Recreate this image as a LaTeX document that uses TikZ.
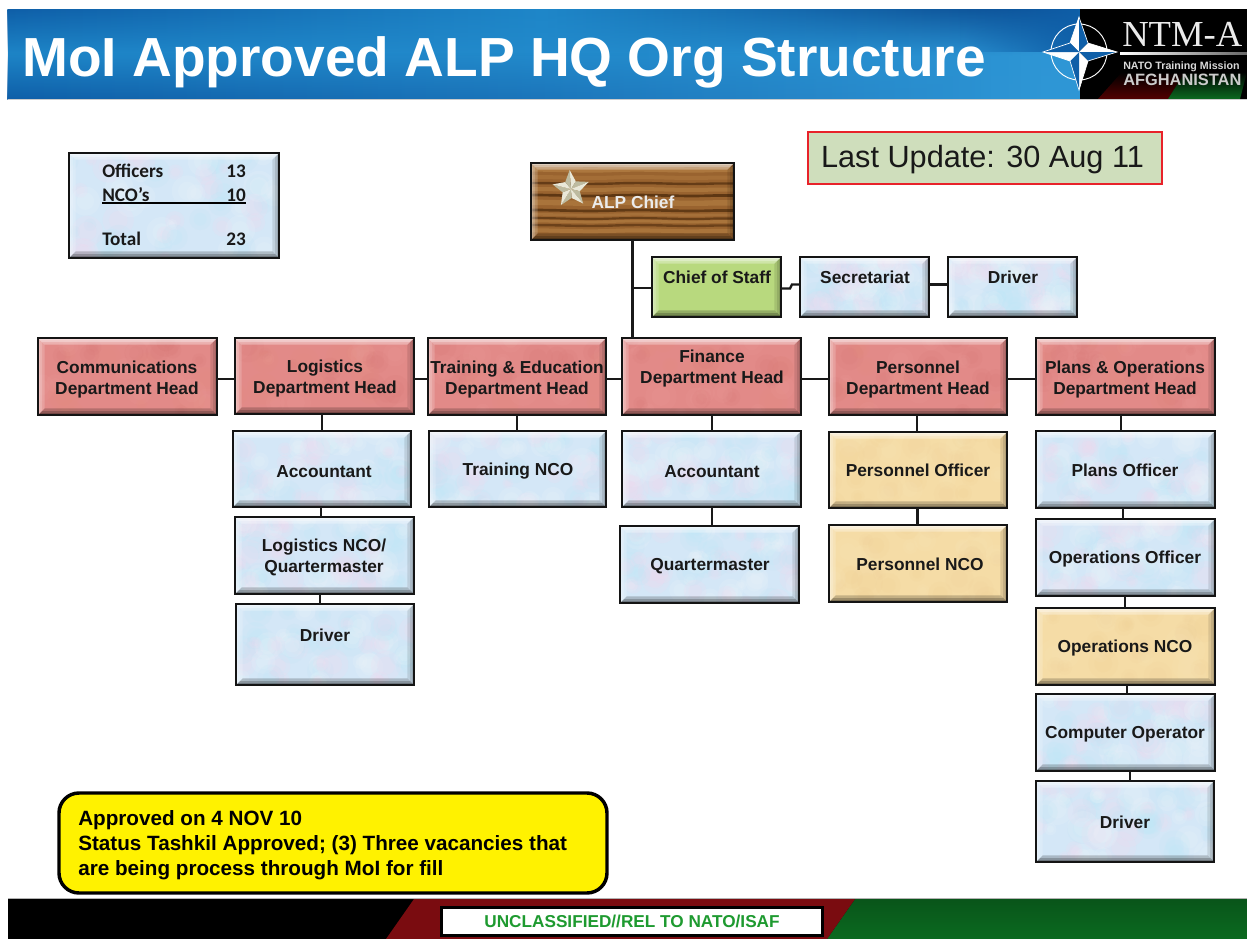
\documentclass[tikz,border=0pt]{standalone}
\usepackage{fontspec}
\setmainfont{Liberation Sans}
\newfontfamily\carl{Carlito}
\newfontfamily\serifl{Liberation Serif}
\usetikzlibrary{fadings,calc}
\definecolor{mbase}{HTML}{D4E7F7}
\definecolor{mA0}{HTML}{F4D8EE}
\definecolor{mA1}{HTML}{BCE6F6}
\definecolor{mA2}{HTML}{EEF6FC}
\definecolor{rbase}{HTML}{E28A88}
\definecolor{rA0}{HTML}{D97A78}
\definecolor{rA1}{HTML}{EA9C98}
\definecolor{rA2}{HTML}{E58E80}
\definecolor{tbase}{HTML}{F5DCA6}
\definecolor{tA0}{HTML}{F0D096}
\definecolor{tA1}{HTML}{F9E4B6}
\definecolor{tA2}{HTML}{EFD29C}
\definecolor{gbase}{HTML}{B8D97E}
\definecolor{wbase}{HTML}{99632F}
\definecolor{wdark}{HTML}{54300F}
\definecolor{wlight}{HTML}{B98548}
\definecolor{lastfill}{HTML}{CFDEBC}
\definecolor{lastred}{HTML}{E8222A}
\definecolor{deep}{HTML}{0B4A90}
\definecolor{mid}{HTML}{1E86C8}
\definecolor{lite}{HTML}{2F97D6}
\definecolor{low}{HTML}{0F5FA8}
\definecolor{ftgreen}{HTML}{0B6A20}
\definecolor{ftred}{HTML}{7A0C10}
\definecolor{txtgreen}{HTML}{1E9A30}
\newcommand\bandset[1]{%
  \fill[white,opacity=.32] (NW)--(NE)--([shift={(-#1pt,-#1pt)}]NE)--([shift={(#1pt,-#1pt)}]NW)--cycle;
  \fill[white,opacity=.18] (NW)--(SW)--([shift={(#1pt,#1pt)}]SW)--([shift={(#1pt,-#1pt)}]NW)--cycle;
  \fill[black,opacity=.10] (NE)--(SE)--([shift={(-#1pt,#1pt)}]SE)--([shift={(-#1pt,-#1pt)}]NE)--cycle;
  \fill[black,opacity=.20] (SW)--(SE)--([shift={(-#1pt,#1pt)}]SE)--([shift={(#1pt,#1pt)}]SW)--cycle;}
\newcommand\bevelpic{%
  \coordinate (NW) at (path picture bounding box.north west);
  \coordinate (NE) at (path picture bounding box.north east);
  \coordinate (SW) at (path picture bounding box.south west);
  \coordinate (SE) at (path picture bounding box.south east);
  \bandset{5}\bandset{3}\bandset{1.5}}
\newcommand\blobs[2]{%
  \foreach \i in {1,...,#2}{%
    \pgfmathsetmacro\px{(rnd-.5)*\bw}\pgfmathsetmacro\py{(rnd-.5)*\bh}%
    \pgfmathsetmacro\pr{4+rnd*8}\pgfmathtruncatemacro\pc{mod(\i,3)}%
    \fill[#1\pc,opacity=.16] ([shift={(\px pt,\py pt)}]path picture bounding box.center) circle[radius=\pr pt];
    \fill[#1\pc,opacity=.16] ([shift={(\px pt,\py pt)}]path picture bounding box.center) circle[radius=.6*\pr pt];
  }}
\newcommand\woodpic{%
  \foreach \yy/\cc/\lw/\op in {24/wlight/4/.6,18/wlight/3/.35,13.5/wdark/1.8/.75,9/wlight/3/.5,4.5/wdark/2/.85,-1/wlight/4/.5,-6.75/wdark/2/.8,-10/wlight/2/.4,-12.75/wdark/1.6/.7,-15/wlight/2/.5,-18/wdark/1.8/.65,-22/wlight/3/.5}{%
    \draw[\cc,line width=\lw pt,opacity=\op] ([shift={(-90pt,\yy pt)}]path picture bounding box.center) .. controls +(30pt,1.2pt) and +(-30pt,-1.2pt) .. ++(76pt,0pt) .. controls +(30pt,1.2pt) and +(-30pt,-1.2pt) .. ++(76pt,0pt) -- ++(30pt,0pt);
  }}
\tikzset{
  boxbase/.style={draw=black!92,line width=1.8pt,inner sep=0pt,outer sep=0pt,rectangle},
  marblebox/.style={boxbase,fill=mbase,path picture={\blobs{mA}{60}\bevelpic}},
  redbox/.style={boxbase,fill=rbase,path picture={\blobs{rA}{30}\bevelpic}},
  tanbox/.style={boxbase,fill=tbase,path picture={\blobs{tA}{30}\bevelpic}},
  greenbox/.style={boxbase,fill=gbase,path picture={\bevelpic}},
  woodbox/.style={boxbase,fill=wbase,path picture={\woodpic\bevelpic}},
  lbl/.style={inner sep=0pt,align=center,text=black!90,yshift=-1.1pt,font=\fontsize{13}{15.8}\selectfont\bfseries},
  conn/.style={draw=black!90,line width=1.8pt},
  legtext/.style={inner sep=0pt,font=\fontsize{14.4}{16}\carl\bfseries,text=black!90},
}
\newcommand\bx[8]{% name x1 y1 x2 y2 style tx|ty text
  \pgfmathsetmacro\bw{(#4-#2)*.75}\pgfmathsetmacro\bh{(#5-#3)*.75}%
  \node[#6,minimum width=\bw pt,minimum height=\bh pt] (#1) at ({(#2+#4)/2},{(#3+#5)/2}) {};
  \node[lbl] (#1-t) at (#7) {#8};}
\begin{document}
\begin{tikzpicture}[x=.75pt,y=-.75pt]
\useasboundingbox (0,0) rectangle (1247,939);
\pgfmathsetseed{4711}
% header
\shade[left color=mid,right color=lite,middle color=mid!70!lite] (8,9) rectangle (1247,99);
\shade[left color=low,right color=deep,middle color=mid,path fading=south] (8,9) rectangle (1080,55);
\shade[left color=low,right color=lite,middle color=low!60!lite,path fading=north] (8,52) rectangle (1080,99);
\fill[low,path fading=west] (960,9) rectangle (1081,52);
\fill[lite,path fading=west] (960,52) rectangle (1081,99);
\fill[black] (1080,9) rectangle (1247,99);
\shade[bottom color=ftred!130,top color=black] (1098,99) -- (1122,72) -- (1185,72) -- (1168,99) -- cycle;
\shade[bottom color=ftgreen,top color=black] (1168,99) -- (1185,72) -- (1247,72) -- (1240,99) -- cycle;
\draw[white!80!black,line width=.5pt] (8,99.6) -- (1247,99.6);
\node[font=\fontsize{41.3}{48}\selectfont\bfseries,text=white,inner sep=0pt,anchor=base west] (title) at (22,76) {MoI Approved ALP HQ Org Structure};
% compass
\draw[white,line width=.7pt] (1079,52) circle[radius=28];
\fill[white] (1079,17) -- (1070,43) -- (1079,52) -- cycle;
\fill[low] (1079,17) -- (1088,43) -- (1079,52) -- cycle;
\fill[white] (1117,52) -- (1088,43) -- (1079,52) -- cycle;
\fill[low] (1117,52) -- (1088,61) -- (1079,52) -- cycle;
\fill[white] (1079,90) -- (1088,61) -- (1079,52) -- cycle;
\fill[low] (1079,90) -- (1070,61) -- (1079,52) -- cycle;
\fill[white] (1043,52) -- (1070,61) -- (1079,52) -- cycle;
\fill[low] (1043,52) -- (1070,43) -- (1079,52) -- cycle;
\draw[white,line width=.5pt] (1079,17) -- (1088,43) -- (1117,52) -- (1088,61) -- (1079,90) -- (1070,61) -- (1043,52) -- (1070,43) -- cycle;
\node[font=\fontsize{27.5}{30}\serifl,text=white!92!black,inner sep=0pt,anchor=base west] (ntm) at (1122,46) {NTM-A};
\shade[left color=white,right color=black!60] (1120,52) rectangle (1247,54.5);
\node[font=\fontsize{8}{10}\selectfont\bfseries,text=white!85!black,inner sep=0pt,anchor=base west] (ntmb) at (1123,69) {NATO Training Mission};
\node[font=\fontsize{12.3}{14}\selectfont\bfseries,text=white!80!black,inner sep=0pt,anchor=base west] (ntmc) at (1123,85) {AFGHANISTAN};
% footer
\fill[black] (8,899) rectangle (1247,939);
\shade[top color=ftgreen!80!black,bottom color=ftgreen] (855,899) -- (1247,899) -- (1247,939) -- (827,939) -- cycle;
\fill[ftred] (414,899) -- (855,899) -- (827,939) -- (386,939) -- cycle;
\draw[black!30,line width=.6pt] (8,898.5) -- (1247,898.5);
\node[draw=black,line width=2.2pt,fill=white,minimum width=286pt,minimum height=21.5pt,inner sep=0pt,font=\fontsize{12.9}{14}\selectfont\bfseries,text=txtgreen] (class) at (632,921.5) {UNCLASSIFIED//REL TO NATO/ISAF};
% legend
\pgfmathsetmacro\bw{210*.75}\pgfmathsetmacro\bh{105*.75}
\node[marblebox,minimum width=\bw pt,minimum height=\bh pt] (legend) at (174,205.5) {};
\node[legtext,anchor=base west] (l1) at (102,177) {Officers};
\node[legtext,anchor=base east] (l1n) at (246,177) {13};
\node[legtext,anchor=base west] (l2) at (102,201) {NCO’s};
\node[legtext,anchor=base east] (l2n) at (246,201) {10};
\node[legtext,anchor=base west] (l3) at (102,245) {Total};
\node[legtext,anchor=base east] (l3n) at (246,245) {23};
\draw[black,line width=1.2pt] (l2.south west |- 0,203) -- (l2n.south east |- 0,203);
% last update
\node[draw=lastred,line width=1.5pt,fill=lastfill,minimum width=265.5pt,minimum height=39pt,inner sep=0pt,outer sep=0pt] (last) at (985,158) {};
\node[inner sep=0pt,font=\fontsize{23}{26}\selectfont,text=black!90] (last-t) at (982.5,160) {Last Update: 30 Aug 11};
% note
\node[draw=black,line width=2.6pt,fill=yellow,rounded corners=15pt,minimum width=411pt,minimum height=75pt,inner sep=0pt,outer sep=0pt] (note) at (333,843) {};
\node[inner sep=0pt,align=left,anchor=west,font=\fontsize{15.5}{18.75}\selectfont\bfseries,text=black] (notet) at (78,845.5) {Approved on 4 NOV 10\\Status Tashkil Approved; (3) Three vacancies that\\are being process through MoI for fill};
% boxes
\bx{chief}{531}{163}{734}{240}{woodbox}{633,201}{\textcolor{white!92!black}{ALP Chief}}
\bx{cos}{652}{257}{781}{317}{greenbox}{717,276}{Chief of Staff}
\bx{sec}{800}{257}{929}{317}{marblebox}{865,276}{Secretariat}
\bx{drv}{948}{257}{1077}{317}{marblebox}{1013,276}{Driver}
\bx{comm}{38}{338}{217}{415}{redbox}{127,378}{Communications\\Department Head}
\bx{log}{235}{338}{414}{414}{redbox}{325,377}{Logistics\\Department Head}
\bx{tre}{428}{338}{606}{415}{redbox}{517,378}{Training \& Education\\Department Head}
\bx{fin}{622}{338}{801}{415}{redbox}{712,367}{Finance\\Department Head}
\bx{per}{829}{338}{1007}{415}{redbox}{918,378}{Personnel\\Department Head}
\bx{pln}{1036}{338}{1215}{415}{redbox}{1125,378}{Plans \& Operations\\Department Head}
\bx{acc}{233}{431}{411}{507}{marblebox}{324,470}{Accountant}
\bx{lnco}{235}{517}{414}{594}{marblebox}{324,556}{Logistics NCO/\\Quartermaster}
\bx{ldr}{236}{604}{414}{685}{marblebox}{325,634}{Driver}
\bx{tnco}{429}{431}{606}{507}{marblebox}{518,470}{Training NCO}
\bx{facc}{622}{431}{801}{507}{marblebox}{712,470}{Accountant}
\bx{qm}{620}{526}{799}{603}{marblebox}{710,565}{Quartermaster}
\bx{poff}{829}{432}{1007}{508}{tanbox}{918,469}{Personnel Officer}
\bx{pnco}{829}{525}{1007}{602}{tanbox}{920,563}{Personnel NCO}
\bx{plo}{1036}{431}{1215}{508}{marblebox}{1125,469}{Plans Officer}
\bx{opo}{1036}{519}{1215}{596}{marblebox}{1125,558}{Operations Officer}
\bx{opn}{1036}{608}{1215}{685}{tanbox}{1125,647}{Operations NCO}
\bx{cop}{1036}{694}{1215}{771}{marblebox}{1125,733}{Computer Operator}
\bx{odr}{1036}{781}{1214}{862}{marblebox}{1125,821}{Driver}
% star
\foreach \k in {0,...,4}{%
  \pgfmathsetmacro\aa{-94+72*\k}\pgfmathsetmacro\bb{-94+36+72*\k}\pgfmathsetmacro\cc{-94+72+72*\k}
  \fill[white!92!yellow!90!black] (571,189) -- ($(571,189)+(\aa:19)$) -- ($(571,189)+(\bb:9)$) -- cycle;
  \fill[black!35!white!85!yellow] (571,189) -- ($(571,189)+(\bb:9)$) -- ($(571,189)+(\cc:19)$) -- cycle;
}
% connectors
\draw[conn] (chief.south) -- (chief.south |- fin.north);
\draw[conn] (cos.west |- 0,288) -- (chief.south |- 0,288);
\draw[conn] (cos.east |- 0,288.5) -- (790,288.5) -- (792,284.5) -- (sec.west |- 0,284.5);
\draw[conn] (sec.east |- 0,284.5) -- (drv.west |- 0,284.5);
\draw[conn] (comm.east |- 0,379) -- (log.west |- 0,379);
\draw[conn] (log.east |- 0,379) -- (tre.west |- 0,379);
\draw[conn] (tre.east |- 0,379) -- (fin.west |- 0,379);
\draw[conn] (fin.east |- 0,379) -- (per.west |- 0,379);
\draw[conn] (per.east |- 0,379) -- (pln.west |- 0,379);
\draw[conn] (log.south -| 322,0) -- (acc.north -| 322,0);
\draw[conn] (acc.south -| 321,0) -- (lnco.north -| 321,0);
\draw[conn] (lnco.south -| 320,0) -- (ldr.north -| 320,0);
\draw[conn] (tre.south -| 517,0) -- (tnco.north -| 517,0);
\draw[conn] (fin.south -| 712,0) -- (facc.north -| 712,0);
\draw[conn] (facc.south -| 712,0) -- (qm.north -| 712,0);
\draw[conn] (per.south -| 917,0) -- (poff.north -| 917,0);
\draw[conn] (poff.south -| 917.5,0) -- (pnco.north -| 917.5,0);
\draw[conn] (pln.south -| 1121,0) -- (plo.north -| 1121,0);
\draw[conn] (plo.south -| 1123,0) -- (opo.north -| 1123,0);
\draw[conn] (opo.south -| 1125,0) -- (opn.north -| 1125,0);
\draw[conn] (opn.south -| 1127,0) -- (cop.north -| 1127,0);
\draw[conn] (cop.south -| 1130,0) -- (odr.north -| 1130,0);
\end{tikzpicture}
\end{document}
